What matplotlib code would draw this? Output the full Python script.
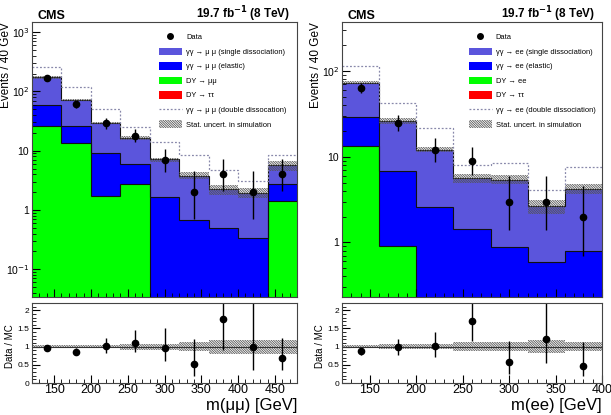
import numpy as np
import matplotlib
matplotlib.use('Agg')
import matplotlib.pyplot as plt
from matplotlib.patches import Patch
from matplotlib.lines import Line2D
from matplotlib.ticker import MultipleLocator, FixedLocator, NullFormatter

plt.rcParams['font.family'] = ['Liberation Sans', 'DejaVu Sans']
plt.rcParams['hatch.color'] = '#555555'
plt.rcParams['hatch.linewidth'] = 0.6

PURPLE = '#5b55dc'
BLUE = '#0000ff'
GREEN = '#00ff00'
RED = '#ff0000'
HATCH = '\\' * 14

# ---- mu mu channel (bins of 40 GeV, 120-480) ----
mm_edges = [120, 160, 200, 240, 280, 320, 360, 400, 440, 480]
mm_dy = [26, 13.5, 1.72, 2.7, 0, 0, 0, 0, 1.42]
mm_dytt = [0, 0, 0, 0, 0, 0, 0, 0, 0]
mm_elastic = [33.7, 12.5, 7.3, 3.2, 1.65, 0.68, 0.49, 0.34, 1.28]
mm_single = [112, 46.6, 20.3, 10.5, 5.45, 3.12, 1.74, 1.61, 3.0]
mm_double = [91, 48, 22, 8.4, 6.9, 4.5, 2.4, 1.1, 2.7]
mm_data = [165, 61, 29, 18, 7, 2, 4, 2, 4]
mm_data_lo = [13, 8, 5.4, 4.2, 2.6, 1.3, 1.9, 1.3, 1.9]
mm_data_hi = [14, 9, 6.4, 5.3, 3.8, 2.6, 3.2, 2.6, 3.2]
mm_ratio = [0.97, 0.85, 1.02, 1.1, 0.97, 0.53, 1.75, 1.0, 0.7]
mm_ratio_lo = [0.05, 0.09, 0.2, 0.25, 0.37, 0.35, 0.83, 0.65, 0.35]
mm_ratio_hi = [0.05, 0.1, 0.23, 0.35, 0.53, 0.69, 0.8, 1.3, 0.55]
mm_unc = [0.04, 0.04, 0.04, 0.08, 0.08, 0.13, 0.19, 0.19, 0.19]

# ---- ee channel (bins of 40 GeV, 120-400) ----
ee_edges = [120, 160, 200, 240, 280, 320, 360, 400]
ee_dy = [13.3, 0.9, 0, 0, 0, 0, 0]
ee_dytt = [0, 0, 0, 0, 0, 0, 0]
ee_elastic = [15.9, 5.9, 2.6, 1.45, 0.88, 0.59, 0.79]
ee_single = [43.8, 19.4, 9.5, 4.15, 4.52, 2.05, 3.46]
ee_double = [42, 15.8, 9.3, 2.35, 3.05, 1.49, 3.35]
ee_data = [64, 25, 12, 9, 3, 3, 2]
ee_data_lo = [8, 5, 3.4, 2.9, 1.6, 1.6, 1.3]
ee_data_hi = [9, 6, 4.5, 4.1, 2.9, 2.9, 2.6]
ee_ratio = [0.87, 0.98, 1.02, 1.7, 0.58, 1.22, 0.48]
ee_ratio_lo = [0.1, 0.2, 0.3, 0.55, 0.33, 0.67, 0.3]
ee_ratio_hi = [0.1, 0.22, 0.38, 0.6, 0.57, 1.0, 0.64]
ee_unc = [0.04, 0.07, 0.07, 0.12, 0.12, 0.18, 0.13]


def draw_channel(fig, rect_main, rect_ratio, edges, dy, dytt, elastic, single, double,
                 data, dlo, dhi, ratio, rlo, rhi, unc, ylim, ll, xlab, legx):
    ax = fig.add_axes(rect_main)
    rax = fig.add_axes(rect_ratio)
    edges = np.array(edges, float)
    centers = 0.5 * (edges[1:] + edges[:-1])
    floor = 1e-4
    c1 = np.maximum(np.array(dy, float), floor)
    c2 = c1 + np.array(dytt, float)
    c3 = c2 + np.array(elastic, float)
    c4 = c3 + np.array(single, float)
    c5 = c4 + np.array(double, float)
    u = np.array(unc, float)

    ax.stairs(c1, edges, baseline=floor, fill=True, color=GREEN)
    ax.stairs(c2, edges, baseline=c1, fill=True, color=RED)
    ax.stairs(c3, edges, baseline=c2, fill=True, color=BLUE)
    ax.stairs(c4, edges, baseline=c3, fill=True, color=PURPLE)
    for c in (c1, c3, c4):
        ax.stairs(c, edges, color='#111111', lw=0.8, baseline=None)
    ax.stairs(c4 * (1 + u), edges, baseline=c4 * (1 - u), fill=True,
              facecolor='none', edgecolor='#555555', lw=0, hatch=HATCH)
    ax.stairs(c5, edges, color='#8888aa', lw=0.9, ls=(0, (1.5, 1.5)), baseline=None)
    ax.errorbar(centers, data, yerr=[dlo, dhi], fmt='o', color='black', ms=4.5,
                elinewidth=1, capsize=0)

    ax.set_yscale('log')
    ax.set_ylim(*ylim)
    ax.set_xlim(edges[0], edges[-1])
    ax.xaxis.set_major_locator(MultipleLocator(50))
    ax.xaxis.set_minor_locator(MultipleLocator(10))
    ax.xaxis.set_major_formatter(NullFormatter())
    ax.tick_params(which='both', direction='in', top=False, right=False,
                   labelsize=7.5, pad=2)
    ax.tick_params(which='major', length=6)
    ax.tick_params(which='minor', length=3)
    ax.set_ylabel('Events / 40 GeV', fontsize=8.5, loc='top')
    ax.yaxis.set_label_coords(-0.077, 1.0)
    ax.text(0.02, 1.012, 'CMS', transform=ax.transAxes, fontsize=9,
            fontweight='bold', ha='left', va='baseline')
    ax.text(0.975, 1.012, '19.7 fb$^{\\mathbf{-1}}$ (8 TeV)', transform=ax.transAxes,
            fontsize=8.5, fontweight='bold', ha='right', va='baseline')

    handles = [
        Line2D([], [], marker='o', color='black', ls='none', ms=4),
        Patch(facecolor=PURPLE, edgecolor='none'),
        Patch(facecolor=BLUE, edgecolor='none'),
        Patch(facecolor=GREEN, edgecolor='none'),
        Patch(facecolor=RED, edgecolor='none'),
        Line2D([], [], color='#8888aa', lw=0.9, ls=(0, (1.5, 1.5))),
        Patch(facecolor='white', edgecolor='#555555', lw=0, hatch=HATCH),
    ]
    ax.legend(handles, ll, loc='upper left', bbox_to_anchor=(legx, 0.96),
              frameon=False, fontsize=5.4, handlelength=3.07, handleheight=1.2,
              labelspacing=0.82, handletextpad=0.53, borderaxespad=0, borderpad=0)

    # ratio panel
    uu = np.concatenate([u, u[-1:]])
    rax.fill_between(edges, 1 - uu, 1 + uu, step='post', facecolor='none',
                     edgecolor='#555555', lw=0, hatch=HATCH)
    rax.axhline(1, color='#333333', lw=0.8)
    rax.errorbar(centers, ratio, yerr=[rlo, rhi], fmt='o', color='black', ms=4.5,
                 elinewidth=1, capsize=0)
    rax.set_xlim(edges[0], edges[-1])
    rax.set_ylim(0, 2.2)
    rax.yaxis.set_major_locator(FixedLocator([0, 0.5, 1, 1.5, 2]))
    rax.yaxis.set_major_formatter(plt.FuncFormatter(lambda v, p: '%g' % v))
    rax.yaxis.set_minor_locator(MultipleLocator(0.1))
    rax.xaxis.set_major_locator(MultipleLocator(50))
    rax.xaxis.set_minor_locator(MultipleLocator(10))
    rax.tick_params(which='both', direction='in', top=False, right=False)
    rax.tick_params(axis='y', labelsize=6, pad=2)
    rax.tick_params(axis='x', labelsize=9, pad=1)
    rax.tick_params(which='major', length=6)
    rax.tick_params(which='minor', length=3)
    rax.set_ylabel('Data / MC', fontsize=7)
    rax.yaxis.set_label_coords(-0.064, 0.46)
    rax.text(1.0, -0.275, xlab, transform=rax.transAxes, fontsize=12,
             ha='right', va='center')
    for a in (ax, rax):
        for s in a.spines.values():
            s.set_color('#444444')
    return ax, rax


def fmt_log(v, p):
    if v == 1:
        return '1'
    if v == 10:
        return '10'
    e = int(round(np.log10(v)))
    return '10$^{%d}$' % e


fig = plt.figure(figsize=(6.11, 4.15), dpi=100)

mm_labels = ['Data',
             'γγ → μ μ (single dissociation)',
             'γγ → μ μ (elastic)',
             'DY → μμ',
             'DY → ττ',
             'γγ → μ μ (double dissocation)',
             'Stat. uncert. in simulation']
ee_labels = ['Data',
             'γγ → ee (single dissociation)',
             'γγ → ee (elastic)',
             'DY → ee',
             'DY → ττ',
             'γγ → ee (double dissociation)',
             'Stat. uncert. in simulation']

ax1, r1 = draw_channel(fig, [0.0524, 0.2843, 0.4337, 0.6627], [0.0524, 0.0771, 0.4337, 0.1928],
                       mm_edges, mm_dy, mm_dytt, mm_elastic, mm_single, mm_double,
                       mm_data, mm_data_lo, mm_data_hi, mm_ratio, mm_ratio_lo, mm_ratio_hi,
                       mm_unc, (0.034, 1480), mm_labels, 'm(μμ) [GeV]', 0.479)
ax1.yaxis.set_major_locator(FixedLocator([0.1, 1, 10, 100, 1000]))
ax1.yaxis.set_major_formatter(plt.FuncFormatter(fmt_log))

ax2, r2 = draw_channel(fig, [0.5597, 0.2843, 0.4255, 0.6627], [0.5597, 0.0771, 0.4255, 0.1928],
                       ee_edges, ee_dy, ee_dytt, ee_elastic, ee_single, ee_double,
                       ee_data, ee_data_lo, ee_data_hi, ee_ratio, ee_ratio_lo, ee_ratio_hi,
                       ee_unc, (0.23, 375), ee_labels, 'm(ee) [GeV]', 0.488)
ax2.yaxis.set_major_locator(FixedLocator([1, 10, 100]))
ax2.yaxis.set_major_formatter(plt.FuncFormatter(fmt_log))

fig.savefig('out.png', dpi=100)
